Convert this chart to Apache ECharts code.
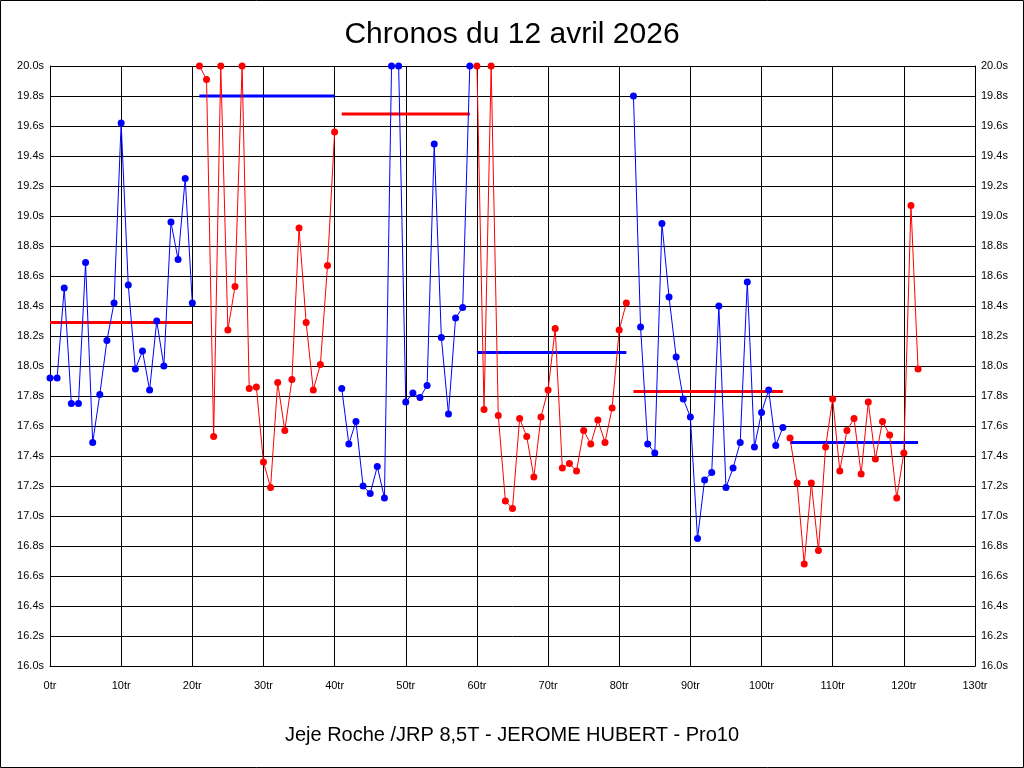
<!DOCTYPE html>
<html>
<head>
<meta charset="utf-8">
<script src="https://cdn.jsdelivr.net/npm/echarts@6/dist/echarts.min.js"></script>
<style>
html,body{margin:0;padding:0;background:#fff;}
#c{width:1024px;height:768px;}
</style>
</head>
<body>
<div id="c"></div>
<script>
// Lap times (seconds), lap index = position in array (0..122)
const lapTimes = [
  17.92, 17.92, 18.52, 17.75, 17.75, 18.69, 17.49, 17.81, 18.17, 18.42, 19.62, 18.54, 17.98, 18.10, 17.84, 18.30, 18.00, 18.96, 18.71, 19.25, 18.42,
  20.00, 19.91, 17.53, 20.00, 18.24, 18.53, 20.00, 17.85, 17.86, 17.36, 17.19, 17.89, 17.57, 17.91, 18.92, 18.29, 17.84, 18.01, 18.67, 19.56,
  17.85, 17.48, 17.63, 17.20, 17.15, 17.33, 17.12, 20.00, 20.00, 17.76, 17.82, 17.79, 17.87, 19.48, 18.19, 17.68, 18.32, 18.39, 20.00,
  20.00, 17.71, 20.00, 17.67, 17.10, 17.05, 17.65, 17.53, 17.26, 17.66, 17.84, 18.25, 17.32, 17.35, 17.30, 17.57, 17.48, 17.64, 17.49, 17.72, 18.24, 18.42,
  19.80, 18.26, 17.48, 17.42, 18.95, 18.46, 18.06, 17.78, 17.66, 16.85, 17.24, 17.29, 18.40, 17.19, 17.32, 17.49, 18.56, 17.46, 17.69, 17.84, 17.47, 17.59,
  17.52, 17.22, 16.68, 17.22, 16.77, 17.46, 17.78, 17.30, 17.57, 17.65, 17.28, 17.76, 17.38, 17.63, 17.54, 17.12, 17.42, 19.07, 17.98
];
const segmentStarts = [0, 21, 41, 60, 82, 104];
const segmentEnds   = [20, 40, 59, 81, 103, 122];
const segmentColors = ['#0000ff', '#ff0000', '#0000ff', '#ff0000', '#0000ff', '#ff0000'];
const averages      = [18.29, 19.80, 19.68, 18.09, 17.83, 17.49];
const averageColors = ['#ff0000', '#0000ff', '#ff0000', '#0000ff', '#ff0000', '#0000ff'];
const titleText = 'Chronos du 12 avril 2026';
const subtitleText = 'Jeje Roche /JRP 8,5T - JEROME HUBERT - Pro10';

const FONT = "'Liberation Sans', Arial, sans-serif";

const series = [];
// average lines
segmentStarts.forEach((s, k) => {
  series.push({
    type: 'line',
    data: [[s, averages[k]], [segmentEnds[k], averages[k]]],
    showSymbol: false,
    symbol: 'none',
    lineStyle: { color: averageColors[k], width: 3 },
    itemStyle: { color: averageColors[k] },
    z: 2,
    silent: true
  });
});
// lap series
segmentStarts.forEach((s, k) => {
  const d = [];
  for (let i = s; i <= segmentEnds[k]; i++) d.push([i, lapTimes[i]]);
  series.push({
    type: 'line',
    data: d,
    symbol: 'circle',
    symbolSize: 7,
    showAllSymbol: true,
    clip: false,
    lineStyle: { color: segmentColors[k], width: 1 },
    itemStyle: { color: segmentColors[k] },
    z: 3
  });
});

const chart = echarts.init(document.getElementById('c'), null, { renderer: 'canvas' });
const yCommon = {
  type: 'value', min: 16, max: 20, interval: 0.2,
  axisLine: { show: true, lineStyle: { color: '#000', width: 1 } },
  axisTick: { show: false },
  axisLabel: { formatter: v => v.toFixed(1) + 's', color: '#000', fontFamily: FONT, fontSize: 11, margin: 6 },
};
chart.setOption({
  animation: false,
  backgroundColor: '#fff',
  title: {
    text: titleText, left: 'center', top: 15,
    textStyle: { fontFamily: FONT, fontSize: 30, fontWeight: 'normal', color: '#000' }
  },
  grid: { left: 50, top: 66, width: 925, height: 600, containLabel: false },
  xAxis: {
    type: 'value', min: 0, max: 130, interval: 10,
    axisLine: { show: true, onZero: false, lineStyle: { color: '#000', width: 1 } },
    axisTick: { show: false },
    axisLabel: { formatter: v => v + 'tr', color: '#000', fontFamily: FONT, fontSize: 11, margin: 14 },
    splitLine: { show: true, lineStyle: { color: '#000', width: 1 } }
  },
  yAxis: [
    Object.assign({}, yCommon, { position: 'left', splitLine: { show: true, lineStyle: { color: '#000', width: 1 } } }),
    Object.assign({}, yCommon, { position: 'right', splitLine: { show: false } })
  ],
  series: series,
  graphic: [
    { type: 'rect', shape: { x: 0.5, y: 0.5, width: 1023, height: 767 }, style: { fill: 'none', stroke: '#000', lineWidth: 1 }, silent: true },
    { type: 'text', x: 512, y: 735, style: { text: subtitleText, fontFamily: FONT, fontSize: 20, fill: '#000', align: 'center', verticalAlign: 'middle' }, silent: true }
  ]
});
</script>
</body>
</html>
